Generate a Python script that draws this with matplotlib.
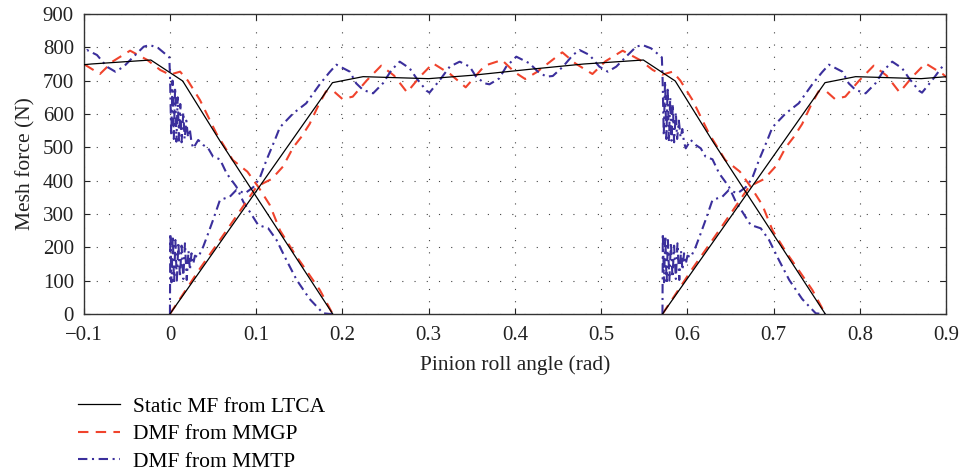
import numpy as np
import matplotlib.pyplot as plt

plt.rcParams["font.family"] = ["Liberation Serif", "DejaVu Serif"]

# pinion roll angle where successive teeth come into mesh (one pitch = 0.5712 rad)
tooth_entry = [-0.5712, 0.0, 0.5712]

# static mesh force of one tooth pair over its contact (angle measured from entry)
static_t = [0.0, 0.1885, 0.224, 0.300, 0.350, 0.417, 0.480, 0.549, 0.586, 0.629, 0.760]
static_f = [0, 694, 712, 706, 716, 734, 750, 762, 699, 520, 0]

# dynamic mesh force, MMGP model
mmgp_t = [0.000, 0.035, 0.058, 0.082, 0.100, 0.108, 0.118, 0.131, 0.143, 0.152,
          0.162, 0.172, 0.181, 0.190, 0.200, 0.212, 0.228, 0.245, 0.260, 0.275,
          0.290, 0.305, 0.325, 0.343, 0.365, 0.385, 0.400, 0.412, 0.425, 0.440,
          0.455, 0.470, 0.490, 0.505, 0.525, 0.545, 0.560, 0.571, 0.583, 0.592,
          0.606, 0.625, 0.644, 0.661, 0.674, 0.687, 0.699, 0.716, 0.729, 0.745,
          0.760]
mmgp_f = [0, 137, 222, 312, 380, 392, 405, 442, 500, 530,
          570, 625, 668, 668, 645, 652, 700, 745, 715, 665,
          712, 752, 720, 680, 745, 762, 725, 705, 725, 755,
          785, 752, 720, 758, 790, 762, 732, 718, 727, 700,
          642, 542, 462, 427, 380, 327, 250, 180, 132, 72,
          0]

# dynamic mesh force, MMTP model
mmtp_t = [0.0000, 0.0004, 0.0018, 0.0033, 0.0048, 0.0063, 0.0080, 0.0098, 0.0116, 0.0135,
          0.0155, 0.0174, 0.0195, 0.0215, 0.0232, 0.0250, 0.0270, 0.0290, 0.0328, 0.0386,
          0.0444, 0.0500, 0.0580, 0.0695, 0.0770, 0.0870, 0.0965, 0.1040, 0.1120, 0.1217,
          0.1275, 0.1430, 0.1580, 0.1740, 0.1850, 0.1930, 0.2086, 0.2160, 0.2240, 0.2356,
          0.2470, 0.2570, 0.2665, 0.2780, 0.2860, 0.2975, 0.3010, 0.3130, 0.3245, 0.3360,
          0.3477, 0.3550, 0.3650, 0.3705, 0.3820, 0.3900, 0.4017, 0.4170, 0.4268, 0.4365,
          0.4440, 0.4558, 0.4673, 0.4750, 0.4866, 0.4980, 0.5078, 0.5176, 0.5290, 0.5408,
          0.5480, 0.5580, 0.5705, 0.5714, 0.5727, 0.5742, 0.5757, 0.5772, 0.5787, 0.5802,
          0.5817, 0.5832, 0.5847, 0.5867, 0.5882, 0.5902, 0.5922, 0.5942, 0.5962, 0.5982,
          0.6040, 0.6098, 0.6156, 0.6212, 0.6292, 0.6369, 0.6482, 0.6562, 0.6642, 0.6735,
          0.6852, 0.6948, 0.7062, 0.7182, 0.7332, 0.7489, 0.7572, 0.7600]
mmtp_f = [0, 242, 95, 235, 90, 222, 100, 215, 110, 205,
          105, 212, 102, 190, 132, 182, 150, 175, 170, 202,
          242, 282, 342, 352, 372, 362, 380, 407, 462, 522,
          560, 602, 632, 690, 725, 748, 727, 692, 672, 662,
          692, 732, 757, 737, 707, 670, 664, 702, 742, 757,
          742, 712, 692, 689, 707, 742, 772, 752, 727, 712,
          714, 742, 777, 792, 777, 742, 727, 742, 772, 802,
          807, 797, 770, 700, 535, 700, 525, 680, 517, 650,
          520, 630, 515, 605, 525, 580, 530, 555, 515, 497,
          522, 507, 497, 472, 464, 422, 382, 337, 305, 267,
          257, 222, 162, 102, 45, 2, 0, 0]

x_ticks = [-0.1, 0.0, 0.1, 0.2, 0.3, 0.4, 0.5, 0.6, 0.7, 0.8, 0.9]
x_tick_labels = ["\u22120.1", "0", "0.1", "0.2", "0.3", "0.4", "0.5", "0.6", "0.7", "0.8", "0.9"]
y_ticks = [0, 100, 200, 300, 400, 500, 600, 700, 800, 900]

fig = plt.figure(figsize=(9.6, 4.73), dpi=100)
ax = fig.add_axes([0.0872, 0.3362, 0.8982, 0.6342])

for i, entry in enumerate(tooth_entry):
    ax.plot(np.array(static_t) + entry, static_f, color="black", lw=0.9,
            label="Static MF from LTCA" if i == 0 else None, zorder=3)
    ax.plot(np.array(mmgp_t) + entry, mmgp_f, color="#f0432c", lw=1.5,
            linestyle=(0, (5, 3.5)),
            label="DMF from MMGP" if i == 0 else None, zorder=2)
    ax.plot(np.array(mmtp_t) + entry, mmtp_f, color="#3b2f9c", lw=1.5,
            linestyle=(0, (4.5, 2.2, 1, 2.2)),
            label="DMF from MMTP" if i == 0 else None, zorder=2)

ax.set_xlim(-0.1, 0.9)
ax.set_ylim(0, 900)
ax.set_xticks(x_ticks)
ax.set_xticklabels(x_tick_labels)
ax.set_yticks(y_ticks)
ax.tick_params(direction="in", top=True, right=True, length=4, width=0.8,
               labelsize=15, colors="#222222")
ax.tick_params(axis="x", pad=9)
ax.tick_params(axis="y", pad=7)
ax.grid(True, color="#444444", lw=0.8, linestyle=(0, (1, 10)))
for spine in ax.spines.values():
    spine.set_linewidth(1.0)
    spine.set_color("#333333")

ax.set_xlabel("Pinion roll angle (rad)", fontsize=15.5, color="#222222", labelpad=7)
ax.set_ylabel("Mesh force (N)", fontsize=15.5, color="#222222", labelpad=5)

fig.legend(loc="upper left", bbox_to_anchor=(0.081, 0.161), frameon=False,
           fontsize=15.5, handlelength=1.95, handletextpad=0.6, labelspacing=0.34,
           borderpad=0, borderaxespad=0)

fig.savefig("out.png", dpi=100)
